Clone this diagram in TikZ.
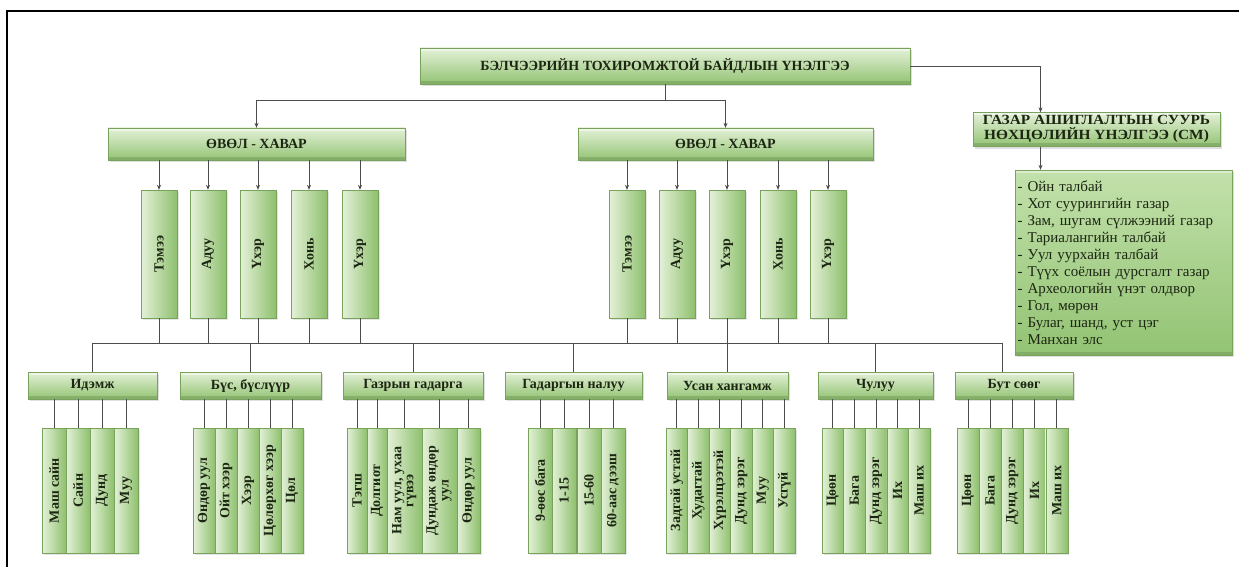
\documentclass[tikz,border=0pt]{standalone}
\usepackage{fontspec}
\setmainfont{Liberation Serif}
\usepackage{graphicx}
\usetikzlibrary{arrows.meta,shadows,calc}
\definecolor{gl}{HTML}{E4F1D8}
\definecolor{gm}{HTML}{BADDA0}
\definecolor{gd}{HTML}{8EC06E}
\definecolor{tx}{HTML}{1C2612}
\tikzset{
  boxfont/.style={font=\fontsize{14}{15}\selectfont\bfseries, text=tx},
  hbox/.style={rectangle, inner sep=0pt, draw=gd!85!black, line width=0.3pt,
    top color=gl, middle color=gm, bottom color=gd!90!gm,
    drop shadow={opacity=0.25, shadow xshift=1.5pt, shadow yshift=-2pt}, boxfont,
    path picture={\fill[white,opacity=0.45] (path picture bounding box.north west) rectangle ([yshift=-3pt]path picture bounding box.north east);
      \fill[gd!70!black,opacity=0.35] (path picture bounding box.south west) rectangle ([yshift=3pt]path picture bounding box.south east);}},
  vbox/.style={rectangle, inner sep=0pt, draw=gd!85!black, line width=0.3pt,
    left color=gl, middle color=gm, right color=gd,
    drop shadow={opacity=0.2, shadow xshift=1.5pt, shadow yshift=-2pt}, boxfont},
  tallbox/.style={vbox, minimum width=36pt, minimum height=128pt},
  sbox/.style={vbox, minimum height=125pt},
  conn/.style={draw=black!70, line width=0.7pt},
  arr/.style={conn, -{Stealth[length=5pt,width=4pt]}},
}
\newcommand{\rt}[1]{\rotatebox{90}{#1}}
\newcommand{\rtt}[2]{\rotatebox{90}{\begin{tabular}{@{}c@{}}#1\\#2\end{tabular}}}
\begin{document}
\begin{tikzpicture}[x=1pt,y=-1pt]
\useasboundingbox (0,0) rectangle (1239,567);
\draw[line width=1.3pt] (7,567) -- (7,11) -- (1239,11);

% top level
\node[hbox, minimum width=490pt, minimum height=36pt] (top) at (665,66) {БЭЛЧЭЭРИЙН ТОХИРОМЖТОЙ БАЙДЛЫН ҮНЭЛГЭЭ};
\node[hbox, minimum width=297pt, minimum height=32pt] (ovl1) at (256.5,144) {ӨВӨЛ - ХАВАР};
\node[hbox, minimum width=295pt, minimum height=32pt] (ovl2) at (725.5,144) {ӨВӨЛ - ХАВАР};
\node[hbox, minimum width=247pt, minimum height=34pt, align=center, font=\fontsize{14}{13.5}\selectfont\bfseries] (rbox) at (1096.5,129.5) {\scalebox{1.1}[1]{\begin{tabular}{@{}c@{}}ГАЗАР АШИГЛАЛТЫН СУУРЬ\\[-1.5pt]НӨХЦӨЛИЙН ҮНЭЛГЭЭ (СМ)\end{tabular}}};
\node[hbox, minimum width=217pt, minimum height=185pt, text width=212pt, align=left, font=\fontsize{15}{17}\selectfont, top color=gm!80!gl, bottom color=gd!90!gm] (list) at (1123.5,262.5) {%
- Ойн талбай\\
- Хот суурингийн газар\\
- Зам, шугам сүлжээний газар\\
- Тариалангийн талбай\\
- Уул уурхайн талбай\\
- Түүх соёлын дурсгалт газар\\
- Археологийн үнэт олдвор\\
- Гол, мөрөн\\
- Булаг, шанд, уст цэг\\
- Манхан элс};

% animals
\foreach \x/\t [count=\i] in {159/Тэмээ,208/Адуу,258/Үхэр,309/Хонь,360/Үхэр}
  \node[tallbox] (v\i) at (\x,254) {\rt{\t}};
\foreach \x/\t [count=\i] in {627/Тэмээ,677/Адуу,727/Үхэр,778/Хонь,828/Үхэр}
  \node[tallbox] (w\i) at (\x,254) {\rt{\t}};

% categories
\node[hbox, minimum width=129pt, minimum height=27pt] (c1) at (92.5,385.5) {Идэмж};
\node[hbox, minimum width=141pt, minimum height=27pt] (c2) at (250.5,385.5) {Бүс, бүслүүр};
\node[hbox, minimum width=140pt, minimum height=27pt] (c3) at (413,385.5) {Газрын гадарга};
\node[hbox, minimum width=137pt, minimum height=27pt] (c4) at (573.5,385.5) {Гадаргын налуу};
\node[hbox, minimum width=121pt, minimum height=27pt] (c5) at (727.5,385.5) {Усан хангамж};
\node[hbox, minimum width=115pt, minimum height=27pt] (c6) at (875.5,385.5) {Чулуу};
\node[hbox, minimum width=118pt, minimum height=27pt] (c7) at (1014,385.5) {Бут сөөг};

% leaves
\foreach \x/\t [count=\i] in {54/Маш сайн,78/Сайн,102/Дунд,126/Муу}
  \node[sbox, minimum width=24pt] (a\i) at (\x,490.5) {\rt{\t}};
\foreach \x/\t [count=\i] in {204/Өндөр уул,226/Ойт хээр,248/Хээр,270/Цөлөрхөг хээр,292/Цөл}
  \node[sbox, minimum width=22pt] (b\i) at (\x,490.5) {\rt{\t}};
\node[sbox, minimum width=20pt] (g1) at (357,490.5) {\rt{Тэгш}};
\node[sbox, minimum width=20pt] (g2) at (377,490.5) {\rt{Долгиот}};
\node[sbox, minimum width=35pt, font=\fontsize{14}{12}\selectfont\bfseries] (g3) at (404.5,490.5) {\rtt{Нам уул, ухаа}{гүвээ}};
\node[sbox, minimum width=35pt, font=\fontsize{14}{13}\selectfont\bfseries] (g4) at (439.5,490.5) {\rtt{Дундаж өндөр}{уул}};
\node[sbox, minimum width=23pt] (g5) at (468.5,490.5) {\rt{Өндөр уул}};
\foreach \x/\t [count=\i] in {540/9-өөс бага,564/1-15,589/15-60,613/60-аас дээш}
  \node[sbox, minimum width=24pt] (n\i) at (\x,490.5) {\rt{\t}};
\foreach \x/\t [count=\i] in {676.75/Задгай устай,698.25/Худагтай,719.75/Хүрэлцээтэй,741.25/Дунд зэрэг,762.75/Муу,784.25/Усгүй}
  \node[sbox, minimum width=21.5pt] (u\i) at (\x,490.5) {\rt{\t}};
\foreach \x/\t [count=\i] in {832.8/Цөөн,854.4/Бага,876/Дунд зэрэг,897.6/Их,919.2/Маш их}
  \node[sbox, minimum width=21.6pt] (h\i) at (\x,490.5) {\rt{\t}};
\foreach \x/\t [count=\i] in {968/Цөөн,990.2/Бага,1012.4/Дунд зэрэг,1034.6/Их,1056.8/Маш их}
  \node[sbox, minimum width=22.2pt] (t\i) at (\x,490.5) {\rt{\t}};

% connectors: top
\coordinate (j0) at ($(top.south)+(0,16)$);
\draw[arr] (top.south) -- (j0) -| (ovl1.north);
\draw[arr] (j0) -| (ovl2.north);
\coordinate (rn) at ($(rbox.north)+(-56,0)$);
\coordinate (rs) at ($(rbox.south)+(-56,0)$);
\draw[arr] (top.east) -| (rn);
\draw[arr] (rs) -- (rs |- list.north);
\foreach \i in {1,...,5} {
  \draw[arr] (v\i.north |- ovl1.south) -- (v\i.north);
  \draw[arr] (w\i.north |- ovl2.south) -- (w\i.north);
}
% bus
\coordinate (busR) at ($(c7.north)+(-12,-29)$);
\draw[conn] (c1.north) |- (busR) -- (busR |- c7.north);
\foreach \i in {1,...,5} {
  \draw[conn] (v\i.south) -- (v\i.south |- busR);
  \draw[conn] (w\i.south) -- (w\i.south |- busR);
}
\foreach \c in {c2,c3,c4,c5,c6}
  \draw[conn] (\c.north) -- (\c.north |- busR);
% leaves connectors
\foreach \i in {1,...,4} \draw[conn] (a\i.north |- c1.south) -- (a\i.north);
\foreach \i in {1,...,5} \draw[conn] (b\i.north |- c2.south) -- (b\i.north);
\foreach \i in {1,...,5} \draw[conn] (g\i.north |- c3.south) -- (g\i.north);
\foreach \i in {1,...,4} \draw[conn] (n\i.north |- c4.south) -- (n\i.north);
\foreach \i in {1,...,6} \draw[conn] (u\i.north |- c5.south) -- (u\i.north);
\foreach \i in {1,...,5} \draw[conn] (h\i.north |- c6.south) -- (h\i.north);
\foreach \i in {1,...,5} \draw[conn] (t\i.north |- c7.south) -- (t\i.north);
\end{tikzpicture}
\end{document}
